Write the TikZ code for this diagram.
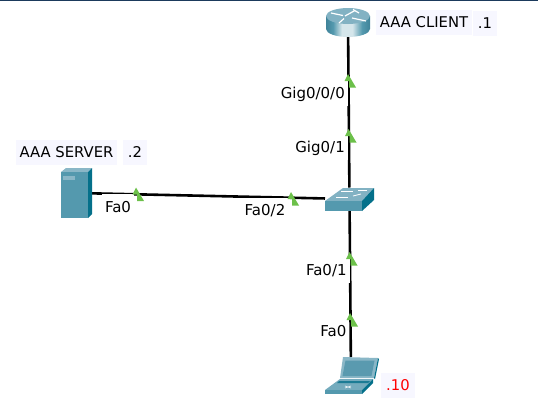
\documentclass[tikz,border=0pt]{standalone}
\usepackage{fontspec}
\setmainfont{DejaVu Sans}
\definecolor{navy}{HTML}{1B3A5C}
\definecolor{pale}{HTML}{F7F7FF}
\definecolor{lit}{HTML}{6CC04A}
\definecolor{front}{HTML}{5499AE}
\definecolor{side}{HTML}{04708A}
\definecolor{topc}{HTML}{8AB7C7}
\definecolor{scr}{HTML}{5A9AAF}
\definecolor{rdark}{HTML}{3F8399}
\definecolor{rlight}{HTML}{D5E6EB}
\pgfdeclarehorizontalshading{routerbody}{100bp}{color(0bp)=(rdark); color(25bp)=(rdark); color(33bp)=(front); color(43bp)=(rlight); color(55bp)=(rlight); color(66bp)=(front); color(75bp)=(rdark); color(100bp)=(rdark)}
\tikzset{
  x=1pt,y=-1pt,
  device/.style={inner sep=0pt,outer sep=0pt},
  link/.style={line width=2.6pt,black},
  boxlabel/.style={fill=pale,inner xsep=4pt,inner ysep=0pt,minimum height=25pt,font=\fontsize{14.8}{16}\selectfont,text height=12pt,text depth=2pt},
  portlabel/.style={fill=white,inner xsep=3pt,inner ysep=0pt,minimum height=26pt,font=\fontsize{15}{16}\selectfont,text height=12pt,text depth=2pt},
  light/.style={fill=lit,draw=none},
  whitemark/.style={white,line width=1.2pt}
}
\newcommand{\linklight}[2]{\fill[light] (#1,#2) -- ++(-3.5,7) -- ++(4.5,0) -- ++(0,6.5) -- ++(7,0) -- cycle;}
\begin{document}
\begin{tikzpicture}
\useasboundingbox (0,0) rectangle (538,405);
\fill[navy] (0,0) rectangle (538,1.4);
% device anchors
\node[device,minimum width=44pt,minimum height=29pt] (router) at (348,22.5) {};
\node[device,minimum width=49pt,minimum height=23pt] (switch) at (349.5,199) {};
\node[device,minimum width=31pt,minimum height=50pt] (server) at (76.5,193) {};
\node[device,minimum width=54pt,minimum height=37pt] (laptop) at (351,375.5) {};
% connectors
\draw[link] (router) -- (switch);
\draw[link] (server) -- (switch);
\draw[link] (switch) -- (laptop);
% labels
\node[boxlabel] (lc) at (424,22.5) {AAA CLIENT};
\node[boxlabel,inner xsep=5pt] (lc1) at (485,23) {.1};
\node[boxlabel] (ls) at (66.5,152.5) {AAA SERVER};
\node[boxlabel,inner xsep=5pt] (ls2) at (135,152.5) {.2};
\node[boxlabel,inner xsep=5pt,text=red] (ll) at (398,385) {.10};
\node[portlabel,anchor=east] (p1) at (348,93) {Gig0/0/0};
\node[portlabel,anchor=east] (p2) at (348,147) {Gig0/1};
\node[portlabel] (p3) at (118,207) {Fa0};
\node[portlabel,minimum height=24pt] (p4) at (265,210) {Fa0/2};
\node[portlabel,anchor=east] (p5) at (349.8,270) {Fa0/1};
\node[portlabel,anchor=east] (p6) at (349.6,331) {Fa0};
% lights
\linklight{348}{74}
\linklight{348.5}{129}
\linklight{136}{187.5}
\linklight{291}{192}
\linklight{349.5}{252}
\linklight{350}{313}
% router
\shade[shading=routerbody] (326,16) -- (326,29) arc[start angle=180,end angle=0,x radius=22,y radius=8] -- (370,16) -- cycle;
\fill[topc!85!front] (348,16) ellipse[x radius=22,y radius=8];
\begin{scope}[whitemark]
\draw (331,13) -- (343,15.5);
\draw (355,10.5) -- (345,16);
\draw (352,18) -- (366,21);
\draw (344,18.5) -- (339,23);
\draw (353,9.5) -- (359,13);
\end{scope}
% switch
\fill[topc!85!front] (325,201) -- (343,188) -- (374,188) -- (362,201) -- cycle;
\fill[front] (325,201) rectangle (362,211);
\fill[side] (362,201) -- (374,188) -- (374,200) -- (362,211) -- cycle;
\begin{scope}[white,line width=.8pt]
\draw (341,191) -- (353,191);
\draw (358,190.5) -- (367,190.5);
\draw (336,197) -- (348,197);
\draw (353,196) -- (361,194);
\end{scope}
% server
\fill[topc] (61,172) -- (66,168) -- (92,168) -- (88,172) -- cycle;
\fill[front] (61,172) rectangle (88,218);
\fill[side] (88,172) -- (92,168) -- (92,214) -- (88,218) -- cycle;
\fill[topc] (63,176) rectangle (75,180);
% laptop
\fill[topc] (343,357) -- (378,358) -- (374,378) -- (340,378) -- cycle;
\fill[scr] (345.5,360.5) -- (374.5,360.5) -- (371.5,376) -- (342.5,376) -- cycle;
\fill[side] (378,358) -- (379,359) -- (375,379) -- (374,378) -- cycle;
\fill[topc!60!front] (340,379) -- (373,379) -- (362,390) -- (325,390) -- cycle;
\fill[front] (325,390) rectangle (362,394);
\fill[side] (362,390) -- (373,379) -- (373,383) -- (362,394) -- cycle;
\fill[side!70!front] (339,381) -- (370,381) -- (368,383) -- (337,383) -- cycle;
\draw[white,line width=.6pt] (345,386) -- (351,388) (351,386) -- (345,388);
\end{tikzpicture}
\end{document}
